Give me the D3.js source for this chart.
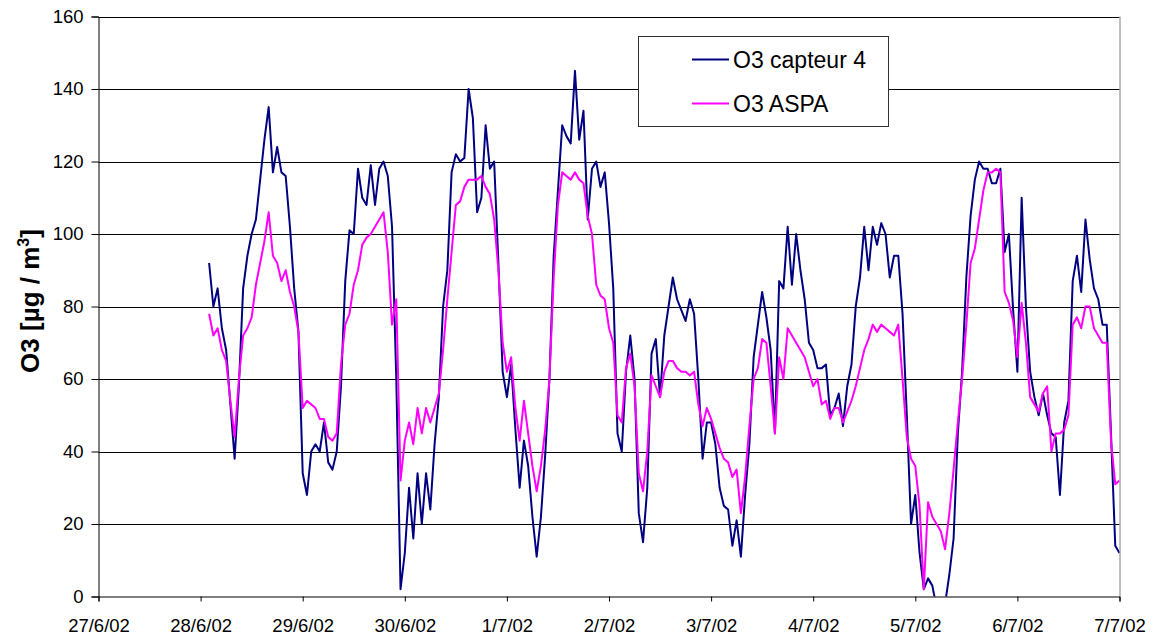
<!DOCTYPE html>
<html>
<head>
<meta charset="utf-8">
<script src="https://cdn.jsdelivr.net/npm/d3@7"></script>
<style>
  body { margin: 0; background: #fff; }
  svg text { font-family: "Liberation Sans", Arial, sans-serif; }
</style>
</head>
<body>
<svg id="chart" width="1158" height="641"></svg>
<script>
// ---- data (hourly readings, first value at 28/6/02 02:00) ----
const seriesNames = ["O3 capteur 4", "O3 ASPA"];
const xTickLabels = ["27/6/02","28/6/02","29/6/02","30/6/02","1/7/02","2/7/02","3/7/02","4/7/02","5/7/02","6/7/02","7/7/02"];
const yTicks = [0, 20, 40, 60, 80, 100, 120, 140, 160];

const capteur4 = [
  92, 80, 85, 74, 68, 53, 38, 58, 85, 94, 100, 104, 115, 126, 135, 117, 124, 117, 116, 102, 85, 73,
  34, 28, 40, 42, 40, 48, 37, 35, 40, 58, 87, 101, 100, 118, 110, 108, 119, 108, 118, 120, 116, 102, 60, 2,
  12, 30, 16, 34, 20, 34, 24, 42, 55, 80, 90, 117, 122, 120, 121, 140, 132, 106, 110, 130, 118, 120, 92, 62,
  55, 64, 46, 30, 43, 36, 22, 11, 22, 39, 60, 94, 112, 130, 127, 125, 145, 126, 134, 104, 118, 120, 113, 117,
  103, 85, 45, 40, 62, 72, 60, 23, 15, 30, 67, 71, 55, 72, 80, 88, 82, 79, 76, 82,
  78, 60, 38, 48, 48, 42, 30, 25, 24, 14, 21, 11, 28, 42, 66, 75, 84, 77, 68, 45, 87, 85, 102, 86,
  100, 90, 82, 70, 68, 63, 63, 64, 50, 52, 56, 47, 58, 64, 80, 88, 102, 90, 102, 97, 103, 100, 88, 94,
  94, 78, 50, 20, 28, 12, 2, 5, 3, -3, -4, -2, 6, 16, 45, 62, 88, 105, 115, 120, 118, 118, 114, 114,
  118, 95, 100, 79, 62, 110, 80, 62, 55, 50, 56, 50, 45, 44, 28, 48, 54, 87, 94, 84, 104, 93, 85, 82,
  75, 75, 45, 14, 12
];

const aspa = [
  78, 72, 74, 68, 65, 54, 44, 60, 72, 74, 77, 86, 92, 98, 106, 94, 92, 87, 90, 84, 80, 73,
  52, 54, 53, 52, 49, 49, 44, 43, 45, 64, 75, 78, 86, 90, 97, 99, 100, 102, 104, 106, 95, 75, 82, 32,
  43, 48, 42, 52, 45, 52, 48, 52, 56, 68, 82, 95, 108, 109, 113, 115, 115, 115, 116, 113, 111, 104, 90, 70,
  62, 66, 52, 43, 54, 45, 36, 29, 36, 46, 60, 88, 108, 117, 116, 115, 117, 115, 114, 105, 100, 86, 83, 82,
  74, 70, 50, 48, 63, 67, 58, 34, 29, 40, 61, 58, 55, 62, 65, 65, 63, 62, 62, 61,
  62, 53, 47, 52, 49, 45, 41, 38, 37, 33, 35, 23, 33, 47, 60, 63, 71, 70, 58, 45, 66, 60, 74, 72,
  70, 68, 66, 62, 58, 60, 53, 54, 49, 52, 52, 48, 51, 54, 58, 63, 68, 71, 75, 73, 75, 74, 73, 72,
  75, 60, 44, 38, 36, 25, 2, 26, 22, 20, 18, 13, 23, 35, 48, 60, 75, 92, 96, 104, 112, 117, 117, 118,
  117, 84, 81, 76, 66, 81, 70, 55, 53, 51, 56, 58, 40, 45, 45, 46, 50, 75, 77, 74, 80, 80, 74, 72,
  70, 70, 43, 31, 32
];

const seriesColors = ["#000080", "#FF00FF"];

// ---- layout ----
const svg = d3.select("#chart");
const margin = { left: 98.5, right: 1119.5, top: 16.5, bottom: 596.5 };

const startDate = new Date(2002, 5, 27, 0, 0, 0);
const endDate = new Date(2002, 6, 7, 0, 0, 0);
const firstReading = new Date(2002, 5, 28, 2, 0, 0);

const x = d3.scaleTime().domain([startDate, endDate]).range([margin.left, margin.right]);
const y = d3.scaleLinear().domain([0, 160]).range([margin.bottom, margin.top]);

const tickDates = xTickLabels.map((_, i) => d3.timeDay.offset(startDate, i));

// clip
svg.append("defs").append("clipPath").attr("id", "plotClip")
  .append("rect")
  .attr("x", margin.left).attr("y", margin.top - 2)
  .attr("width", margin.right - margin.left).attr("height", margin.bottom - margin.top + 2);

// gridlines
svg.append("g")
  .selectAll("line")
  .data(yTicks.filter(d => d > 0))
  .join("line")
  .attr("x1", margin.left).attr("x2", margin.right)
  .attr("y1", d => Math.round(y(d)) + 0.5).attr("y2", d => Math.round(y(d)) + 0.5)
  .attr("stroke", "#000").attr("stroke-width", 1);

// right border of plot area
svg.append("line")
  .attr("x1", margin.right + 0.5).attr("x2", margin.right + 0.5)
  .attr("y1", y(160)).attr("y2", y(0))
  .attr("stroke", "#808080").attr("stroke-width", 1);

// lines
const toPoints = arr => arr.map((v, i) => ({ t: d3.timeHour.offset(firstReading, i), v }));
const line = d3.line().x(d => x(d.t)).y(d => y(d.v));

const plot = svg.append("g").attr("clip-path", "url(#plotClip)");
[capteur4, aspa].forEach((arr, k) => {
  plot.append("path")
    .datum(toPoints(arr))
    .attr("fill", "none")
    .attr("stroke", seriesColors[k])
    .attr("stroke-width", 2)
    .attr("stroke-linejoin", "round")
    .attr("d", line);
});

const fontFam = "'Liberation Sans', Arial, sans-serif";

// y axis
const yAxis = d3.axisLeft(y).tickValues(yTicks).tickSize(7).tickPadding(8).tickFormat(d3.format("d"));
const gy = svg.append("g").attr("transform", `translate(${margin.left},0)`).call(yAxis);
gy.select(".domain").attr("stroke", "#000");
gy.selectAll(".tick line").attr("stroke", "#000");
gy.selectAll(".tick text").attr("font-size", 18.5).attr("fill", "#000").attr("font-family", fontFam);

// x axis
const xAxis = d3.axisBottom(x).tickValues(tickDates).tickSize(5).tickPadding(19)
  .tickFormat((d, i) => xTickLabels[i]);
const gx = svg.append("g").attr("transform", `translate(0,${margin.bottom})`).call(xAxis);
gx.select(".domain").attr("stroke", "#000");
gx.selectAll(".tick line").attr("stroke", "#000");
gx.selectAll(".tick text").attr("font-size", 18.5).attr("fill", "#000").attr("font-family", fontFam)
  .attr("dy", "0").attr("y", 35);

// y title
const yTitle = svg.append("text")
  .attr("transform", "translate(38.5,301) rotate(-90)")
  .attr("text-anchor", "middle")
  .attr("font-size", 26).attr("font-weight", "bold").attr("fill", "#000");
yTitle.append("tspan").text("O3 [µg / m");
yTitle.append("tspan").attr("dy", -10).attr("font-size", 16).text("3");
yTitle.append("tspan").attr("dy", 10).text("]");

// legend
const lg = svg.append("g");
lg.append("rect")
  .attr("x", 638.5).attr("y", 36.5).attr("width", 250).attr("height", 90)
  .attr("fill", "#fff").attr("stroke", "#333").attr("stroke-width", 1);
seriesNames.forEach((name, i) => {
  const yy = 59.5 + i * 44;
  lg.append("line").attr("x1", 692).attr("x2", 729).attr("y1", yy).attr("y2", yy)
    .attr("stroke", seriesColors[i]).attr("stroke-width", 2);
  lg.append("text").attr("x", 733).attr("y", yy + 8).attr("font-size", 23).attr("fill", "#000").text(name);
});
</script>
</body>
</html>
